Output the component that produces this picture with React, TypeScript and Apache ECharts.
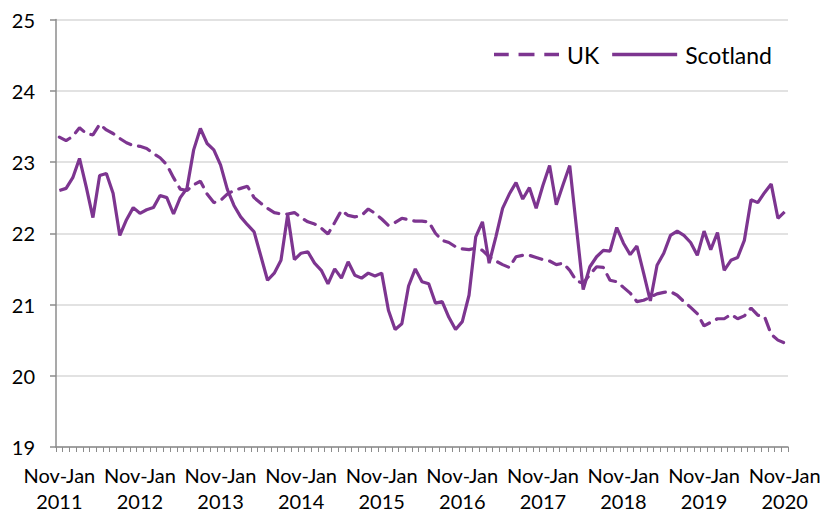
import React, { useEffect, useRef } from "react";
import * as echarts from "echarts";

const monthSpans = ["Nov-Jan", "Dec-Feb", "Jan-Mar", "Feb-Apr", "Mar-May", "Apr-Jun", "May-Jul", "Jun-Aug", "Jul-Sep", "Aug-Oct", "Sep-Nov", "Oct-Dec"];
const startYear = 2011;
const periodCount = 109;
const categories: string[] = Array.from({ length: periodCount }, (_, i) => {
  const span = monthSpans[i % 12];
  const year = startYear + Math.floor(i / 12);
  return span + "\n" + year;
});

const ukValues = [
  23.35, 23.3, 23.36, 23.48, 23.4, 23.38, 23.53, 23.45, 23.4, 23.33, 23.27, 23.23,
  23.22, 23.19, 23.12, 23.06, 22.96, 22.78, 22.62, 22.6, 22.68, 22.73, 22.55, 22.43,
  22.46, 22.55, 22.6, 22.63, 22.66, 22.5, 22.42, 22.35, 22.29, 22.27, 22.27, 22.29,
  22.22, 22.16, 22.13, 22.07, 21.99, 22.15, 22.32, 22.25, 22.23, 22.25, 22.34, 22.28,
  22.2, 22.11, 22.15, 22.21, 22.19, 22.17, 22.17, 22.16, 22.0, 21.9, 21.87, 21.81,
  21.78, 21.77, 21.79, 21.76, 21.67, 21.61, 21.56, 21.52, 21.67, 21.69, 21.69, 21.66,
  21.63, 21.61, 21.56, 21.58, 21.48, 21.33, 21.3, 21.42, 21.53, 21.52, 21.34, 21.32,
  21.24, 21.16, 21.04, 21.06, 21.1, 21.15, 21.17, 21.18, 21.13, 21.04, 20.96, 20.87,
  20.7, 20.75, 20.8, 20.8, 20.86, 20.8, 20.84, 20.95, 20.85, 20.83, 20.58, 20.5,
  20.46,
];

const scotlandValues = [
  22.6, 22.63, 22.78, 23.05, 22.65, 22.22, 22.81, 22.84, 22.56, 21.97, 22.19, 22.36,
  22.28, 22.33, 22.36, 22.53, 22.5, 22.27, 22.5, 22.63, 23.17, 23.47, 23.26, 23.17,
  22.96, 22.62, 22.39, 22.23, 22.12, 22.02, 21.68, 21.34, 21.44, 21.62, 22.26, 21.63,
  21.72, 21.74, 21.58, 21.48, 21.29, 21.5, 21.37, 21.6, 21.41, 21.37, 21.44, 21.4,
  21.44, 20.92, 20.65, 20.73, 21.26, 21.5, 21.32, 21.29, 21.02, 21.04, 20.82, 20.65,
  20.76, 21.13, 21.95, 22.16, 21.58, 21.95, 22.35, 22.55, 22.71, 22.48, 22.64, 22.35,
  22.67, 22.95, 22.4, 22.68, 22.95, 22.08, 21.21, 21.53, 21.67, 21.76, 21.75, 22.08,
  21.86, 21.7, 21.82, 21.44, 21.05, 21.55, 21.72, 21.97, 22.03, 21.97, 21.87, 21.69,
  22.03, 21.77, 22.01, 21.48, 21.62, 21.66, 21.9, 22.47, 22.43, 22.57, 22.69, 22.21,
  22.3,
];

const yMin = 19;
const yMax = 25;
const yStep = 1;

const purple = "#7d3590";
const fontFamily = "Lato, 'Noto Sans', sans-serif";

export default function App() {
  const ref = useRef<HTMLDivElement>(null);

  useEffect(() => {
    if (!ref.current) return;
    const chart = echarts.init(ref.current, undefined, { renderer: "svg" });
    chart.setOption({
      animation: false,
      backgroundColor: "#ffffff",
      textStyle: { fontFamily },
      grid: { left: 56, right: 47, top: 19.5, bottom: 68, containLabel: false },
      legend: {
        right: 58,
        top: 38,
        itemWidth: 65,
        itemHeight: 14,
        itemGap: 13,
        textStyle: { fontSize: 23, color: "#000", fontFamily, padding: [0, 0, 0, 3] },
        data: [
          { name: "UK", icon: "path://M0,6 L12,6 L12,9 L0,9 Z M20,6 L33,6 L33,9 L20,9 Z M41,6 L53,6 L53,9 L41,9 Z" },
          { name: "Scotland", icon: "path://M0,6 L53,6 L53,9 L0,9 Z" },
        ],
      },
      xAxis: {
        type: "category",
        data: categories,
        boundaryGap: true,
        axisLine: { lineStyle: { color: "#8c8c8c", width: 1.5 } },
        axisTick: { show: true, interval: 0, length: 5, lineStyle: { color: "#8c8c8c", width: 1 } },
        axisLabel: {
          interval: 11,
          fontSize: 20,
          color: "#000",
          lineHeight: 26,
          margin: 15,
          fontFamily,
        },
        splitLine: { show: false },
      },
      yAxis: {
        type: "value",
        min: yMin,
        max: yMax,
        interval: yStep,
        axisLine: { show: true, lineStyle: { color: "#8c8c8c", width: 1.5 } },
        axisTick: { show: true, length: 6, lineStyle: { color: "#8c8c8c", width: 1.5 } },
        axisLabel: { fontSize: 20, color: "#000", margin: 21, fontFamily },
        splitLine: { show: true, lineStyle: { color: "#d9d9d9", width: 1.5 } },
      },
      series: [
        {
          name: "UK",
          type: "line",
          data: ukValues,
          symbol: "none",
          itemStyle: { color: purple },
          lineStyle: { color: purple, width: 3.2, type: [12, 8], cap: "round" },
        },
        {
          name: "Scotland",
          type: "line",
          data: scotlandValues,
          symbol: "none",
          itemStyle: { color: purple },
          lineStyle: { color: purple, width: 3.2 },
        },
      ],
    });
    return () => chart.dispose();
  }, []);

  return <div ref={ref} style={{ position: "fixed", left: 0, top: 0, width: 835, height: 515 }} />;
}
